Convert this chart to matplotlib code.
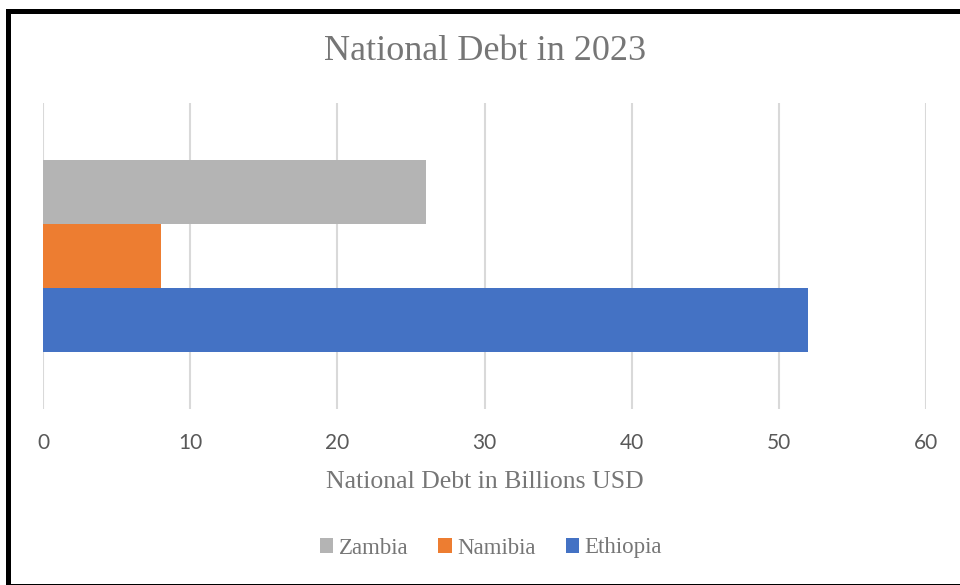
import matplotlib.pyplot as plt
from matplotlib.patches import Rectangle, Patch

# National debt, billions USD
countries = ['Zambia', 'Namibia', 'Ethiopia']
debt = [26, 8, 52]
colors = ['#B4B4B4', '#ED7D31', '#4472C4']

serif = ['Liberation Serif', 'DejaVu Serif']
sans = ['Lato', 'DejaVu Sans']

W, H = 960, 585
fig = plt.figure(figsize=(W / 100, H / 100), dpi=100)
ax = fig.add_axes([43 / W, 1 - 409 / H, (926 - 43) / W, (409 - 103) / H])

bar_h = 64 / 306
offsets = [bar_h, 0, -bar_h]
for name, val, col, off in zip(countries, debt, colors, offsets):
    ax.barh(off, val, height=bar_h, color=col, label=name, zorder=3)

ax.set_xlim(0, 60)
ax.set_ylim(-0.5, 0.5)
ax.set_xticks(range(0, 61, 10))
ax.set_yticks([])
ax.grid(axis='x', color='#D9D9D9', linewidth=1.5, zorder=0)
for s in ax.spines.values():
    s.set_visible(False)
ax.tick_params(axis='x', length=0, pad=17, labelsize=15, labelcolor='#595959')
for lbl in ax.get_xticklabels():
    lbl.set_fontfamily(sans)

ax.set_xlabel('National Debt in Billions USD', fontsize=18.5, color='#767676',
              family=serif, labelpad=13)
fig.text(485 / W, 1 - 52 / H, 'National Debt in 2023', ha='center', va='center',
         fontsize=26, color='#767676', family=serif)

handles = [Patch(facecolor=c, edgecolor='none') for c in colors]
fig.legend(handles, countries, loc='center', bbox_to_anchor=(491 / W, 1 - 548 / H),
           ncol=3, frameon=False, handlelength=0.58, handleheight=0.58,
           handletextpad=0.25, columnspacing=1.3,
           prop={'family': serif, 'size': 16.5}, labelcolor='#767676')

# outer frame
fig.patches.append(Rectangle((7.5, -0.5), 970, 575, transform=None,
                             fill=False, edgecolor='black', linewidth=3.6))

fig.savefig('out.png', dpi=100)
